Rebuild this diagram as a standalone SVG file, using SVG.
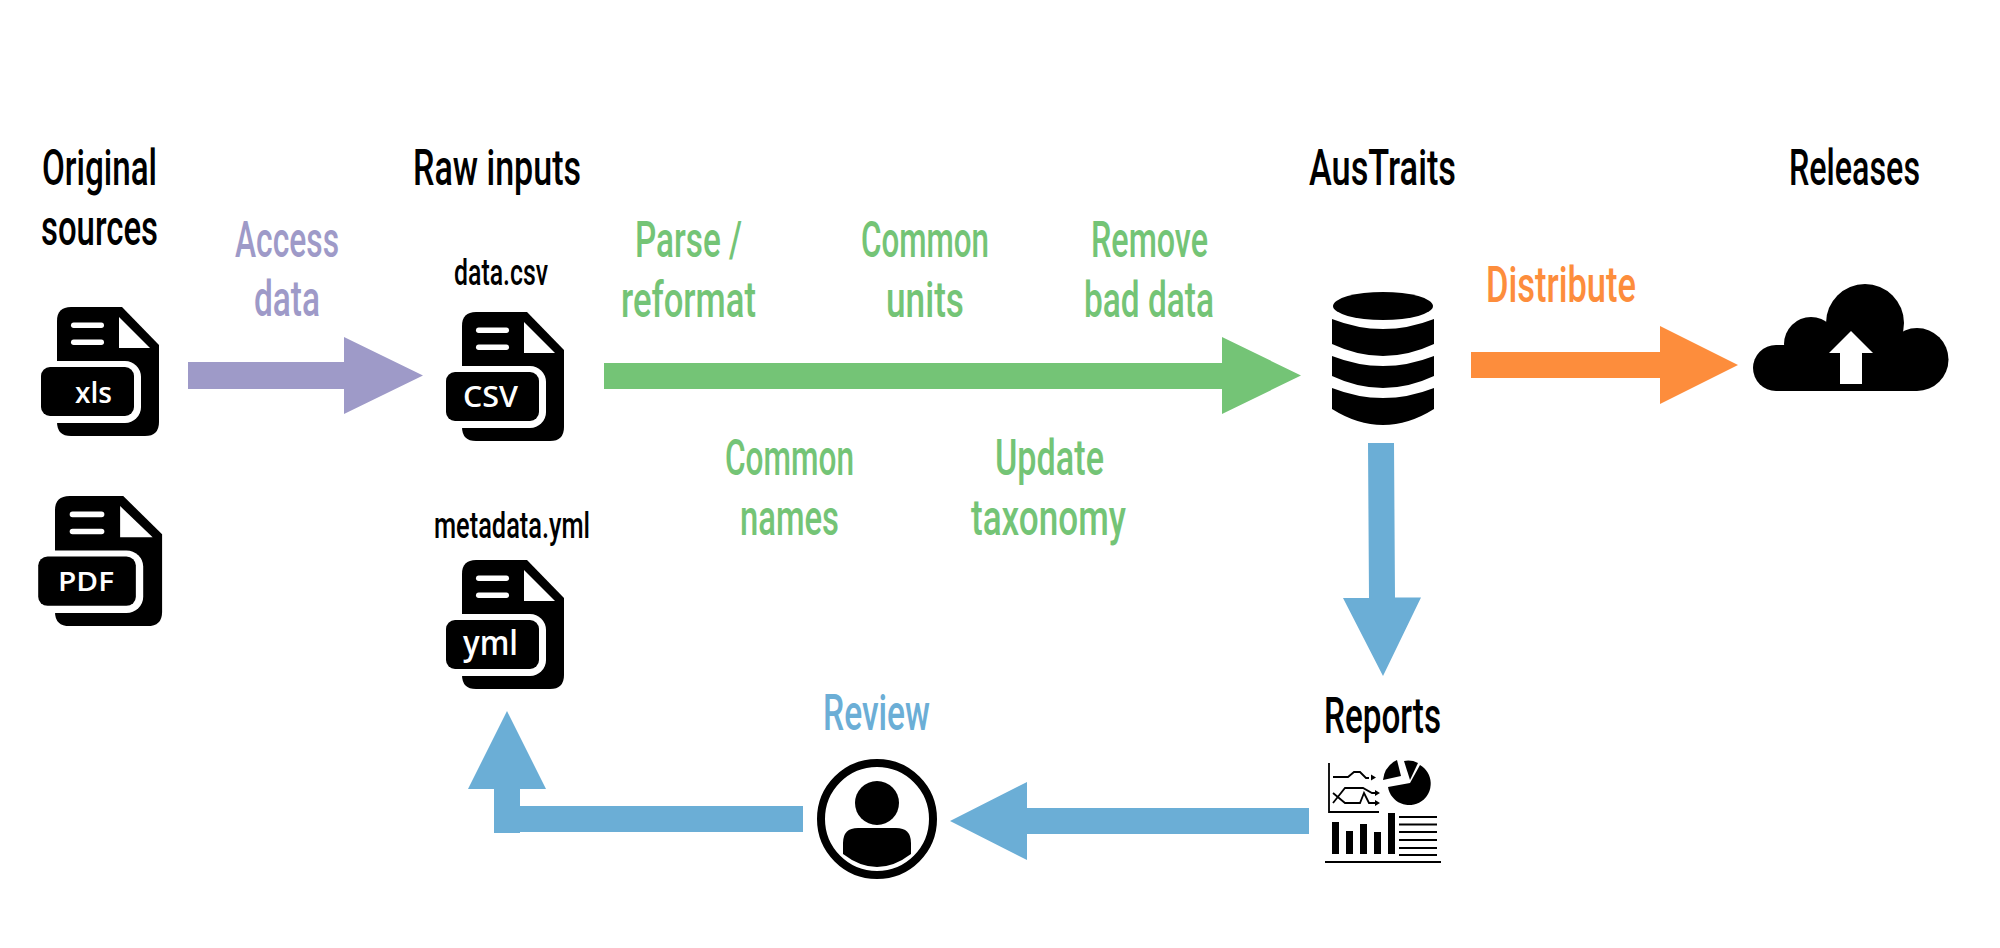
<svg xmlns="http://www.w3.org/2000/svg" xmlns:xlink="http://www.w3.org/1999/xlink" width="2000" height="948" viewBox="0 0 2000 948">
<style>
.t{font-family:"Roboto","Liberation Sans",sans-serif;font-size:50px;font-weight:500;}
.s{font-size:36px;}
.k{fill:#000;}
.p{fill:#9e9ac8;}
.g{fill:#74c476;}
.o{fill:#fd8d3c;}
.b{fill:#6baed6;}
.bd{font-family:"Open Sans","Liberation Sans",sans-serif;fill:#fff;font-weight:600;}
.ln{fill:none;stroke:#000;stroke-width:1.8;}
</style>
<defs>
<g id="file">
<path d="M0 14Q0 0 14 0H65L102 38V115Q102 129 88 129H14Q0 129 0 115Z" fill="#000"/>
<path d="M62 10V41H93Z" fill="#fff"/>
<rect x="14" y="15.5" width="33" height="5.5" rx="2.7" fill="#fff"/>
<rect x="14" y="32.5" width="33" height="5.5" rx="2.7" fill="#fff"/>
<rect x="-16" y="54" width="100" height="62" rx="16" fill="#fff"/>
<rect x="-16" y="60" width="93" height="49" rx="9" fill="#000"/>
</g>
</defs>
<rect width="2000" height="948" fill="#fff"/>
<g id="connectors">
<path class="p" d="M188 362H344V337L423 375.500L344 414V389H188Z"/>
<path class="g" d="M604 363H1222V337L1301 375.500L1222 414V389H604Z"/>
<path class="o" d="M1471 352H1660V326L1738 365L1660 404V378H1471Z"/>
<path class="b" d="M1368 443H1394L1395 597.500H1421L1383 676L1343 598H1369Z"/>
<path class="b" d="M1309 808V834H1027V860L950 821L1027 782V808Z"/>
<path class="b" d="M803 806V832H520V833H494V789H468L507 711L546 789H520V806Z"/>
</g>
<g id="original-sources">
<text class="t k" x="42" y="185" textLength="115" lengthAdjust="spacingAndGlyphs">Original</text>
<text class="t k" x="41" y="245" textLength="117" lengthAdjust="spacingAndGlyphs">sources</text>
</g>
<g id="file-xls">
<use href="#file" xlink:href="#file" transform="translate(57 307)"/>
<text class="bd" x="75" y="403" font-size="29" textLength="37" lengthAdjust="spacingAndGlyphs">xls</text>
</g>
<g id="file-pdf">
<use href="#file" xlink:href="#file" transform="translate(55 496) scale(1.05 1.008)"/>
<text class="bd" x="58" y="591" font-size="27" textLength="56" lengthAdjust="spacingAndGlyphs">PDF</text>
</g>
<g id="access-data">
<text class="t p" x="235" y="257" textLength="104" lengthAdjust="spacingAndGlyphs">Access</text>
<text class="t p" x="254" y="316" textLength="66" lengthAdjust="spacingAndGlyphs">data</text>
</g>
<g id="raw-inputs">
<text class="t k" x="413" y="185" textLength="168" lengthAdjust="spacingAndGlyphs">Raw inputs</text>
</g>
<g id="file-csv">
<text class="t s k" x="454" y="285" textLength="94" lengthAdjust="spacingAndGlyphs">data.csv</text>
<use href="#file" xlink:href="#file" transform="translate(462 312)"/>
<text class="bd" x="463" y="407" font-size="28" textLength="55" lengthAdjust="spacingAndGlyphs">CSV</text>
</g>
<g id="file-yml">
<text class="t s k" x="434" y="538" textLength="156" lengthAdjust="spacingAndGlyphs">metadata.yml</text>
<use href="#file" xlink:href="#file" transform="translate(462 560)"/>
<text class="bd" x="463" y="655" font-size="34" textLength="55" lengthAdjust="spacingAndGlyphs">yml</text>
</g>
<g id="steps">
<text class="t g" x="635" y="257" textLength="107" lengthAdjust="spacingAndGlyphs">Parse /</text>
<text class="t g" x="621" y="317" textLength="135" lengthAdjust="spacingAndGlyphs">reformat</text>
<text class="t g" x="861" y="257" textLength="128" lengthAdjust="spacingAndGlyphs">Common</text>
<text class="t g" x="886" y="317" textLength="78" lengthAdjust="spacingAndGlyphs">units</text>
<text class="t g" x="1091" y="257" textLength="117" lengthAdjust="spacingAndGlyphs">Remove</text>
<text class="t g" x="1084" y="317" textLength="130" lengthAdjust="spacingAndGlyphs">bad data</text>
<text class="t g" x="725" y="475" textLength="129" lengthAdjust="spacingAndGlyphs">Common</text>
<text class="t g" x="740" y="535" textLength="99" lengthAdjust="spacingAndGlyphs">names</text>
<text class="t g" x="995" y="475" textLength="109" lengthAdjust="spacingAndGlyphs">Update</text>
<text class="t g" x="971" y="535" textLength="155" lengthAdjust="spacingAndGlyphs">taxonomy</text>
</g>
<g id="austraits">
<text class="t k" x="1309" y="185" textLength="147" lengthAdjust="spacingAndGlyphs">AusTraits</text>
<ellipse cx="1383" cy="306" rx="50" ry="14"/>
<path d="M1332 319Q1383 339 1434 319V344Q1383 368 1332 344Z"/>
<path d="M1332 356Q1383 376 1434 356V376Q1383 400 1332 376Z"/>
<path d="M1332 388Q1383 408 1434 388V409Q1383 441 1332 409Z"/>
</g>
<g id="distribute">
<text class="t o" x="1486" y="302" textLength="150" lengthAdjust="spacingAndGlyphs">Distribute</text>
</g>
<g id="releases">
<text class="t k" x="1789" y="185" textLength="131" lengthAdjust="spacingAndGlyphs">Releases</text>
<circle cx="1865" cy="323" r="39"/>
<circle cx="1811" cy="344" r="27"/>
<circle cx="1776" cy="368" r="23"/>
<circle cx="1917" cy="359.500" r="31.500"/>
<rect x="1776" y="345" width="141" height="46"/>
<path d="M1851 331L1873 353H1862V384H1840V353H1829Z" fill="#fff"/>
</g>
<g id="reports">
<text class="t k" x="1324" y="733" textLength="117" lengthAdjust="spacingAndGlyphs">Reports</text>
<path class="ln" d="M1329 763V812H1379"/>
<path class="ln" d="M1333 777H1348L1354 772H1360L1366 778H1369"/>
<path class="ln" d="M1333 793L1345 803H1360L1364 793L1369 803H1376"/>
<path class="ln" d="M1333 803L1345 788H1363L1372 793H1376"/>
<path d="M1371 774.500L1371 780.500L1376 777.500ZM1375 790L1375 796L1380 793ZM1375 800L1375 806L1380 803Z"/>
<path d="M1383 780A25 25 0 0 1 1397 760L1401 776Z"/>
<path d="M1404 761A21.500 21.500 0 0 1 1418 763L1410 780Z"/>
<path d="M1420 765A21.500 21.500 0 1 1 1388 787L1410 783Z"/>
<rect x="1332" y="822" width="7" height="32"/>
<rect x="1346" y="831" width="7" height="23"/>
<rect x="1360" y="824" width="7" height="30"/>
<rect x="1374" y="832" width="7" height="22"/>
<rect x="1388" y="813" width="7" height="41"/>
<path class="ln" d="M1399 817H1437M1399 824.500H1437M1399 832H1437M1399 840H1437M1399 848H1437M1399 855H1437"/>
<path d="M1325 862H1441" fill="none" stroke="#000" stroke-width="2"/>
</g>
<g id="review">
<text class="t b" x="823" y="730" textLength="107" lengthAdjust="spacingAndGlyphs">Review</text>
<circle cx="877" cy="819" r="56" fill="#fff" stroke="#000" stroke-width="8"/>
<circle cx="877" cy="803" r="22"/>
<path d="M843 854V843Q843 828 858 828H896Q911 828 911 843V854Q877 880 843 854Z"/>
</g>
</svg>
